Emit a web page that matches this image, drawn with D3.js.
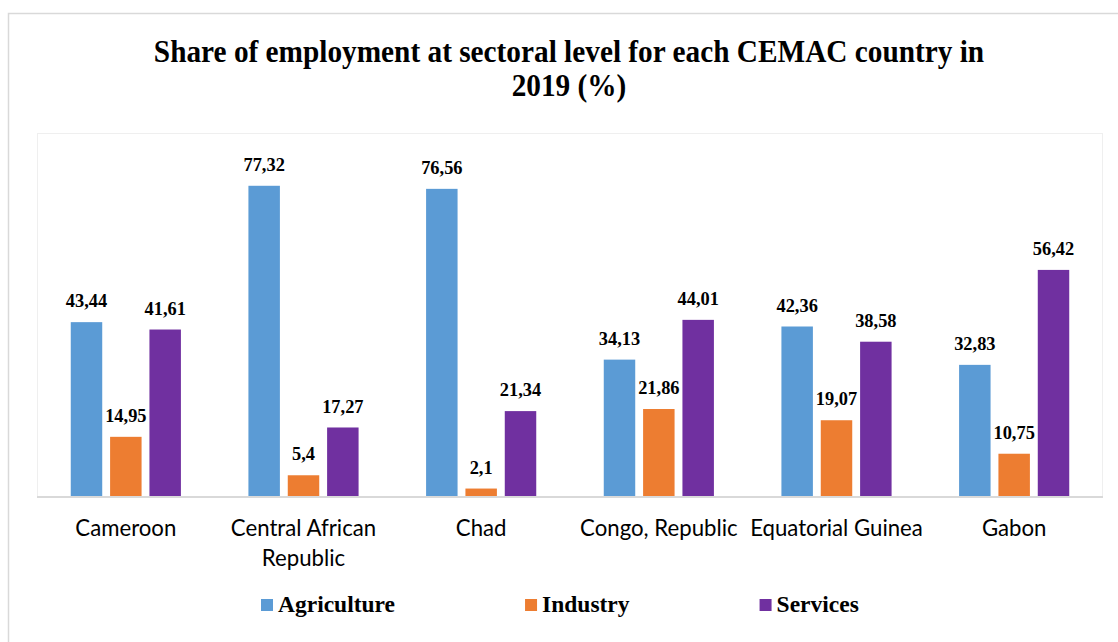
<!DOCTYPE html>
<html>
<head>
<meta charset="utf-8">
<script src="https://cdn.jsdelivr.net/npm/d3@7"></script>
<style>
  html, body { margin: 0; padding: 0; background: #fff; }
  svg { display: block; }
</style>
</head>
<body>
<svg id="chart" width="1118" height="642"></svg>
<script>
// Employment share by sector, CEMAC countries, 2019 (%)
const countries = ["Cameroon", "Central African Republic", "Chad", "Congo, Republic", "Equatorial Guinea", "Gabon"];
const sectors = ["Agriculture", "Industry", "Services"];
const agriculture = [43.44, 77.32, 76.56, 34.13, 42.36, 32.83];
const industry = [14.95, 5.4, 2.1, 21.86, 19.07, 10.75];
const services = [41.61, 17.27, 21.34, 44.01, 38.58, 56.42];
const sectorColors = ["#5B9BD5", "#ED7D31", "#7030A0"];
const titleLines = ["Share of employment at sectoral level for each CEMAC country in", "2019 (%)"];

const seriesValues = [agriculture, industry, services];
const rows = countries.map((c, i) => ({
  country: c,
  values: sectors.map((s, j) => ({ sector: s, value: seriesValues[j][i] }))
}));

const svg = d3.select("#chart");
const W = 1118, H = 642;
const plot = { left: 37, right: 1103, top: 133, bottom: 497 };

// outer frame (top and left edges visible)
svg.append("rect")
  .attr("x", 8.5).attr("y", 13.5)
  .attr("width", W + 20).attr("height", H + 20)
  .attr("fill", "#fff").attr("stroke", "#d9d9d9").attr("stroke-width", 1.5);

// plot area frame
svg.append("rect")
  .attr("x", plot.left + 0.5).attr("y", plot.top + 0.5)
  .attr("width", plot.right - plot.left - 1).attr("height", plot.bottom - plot.top)
  .attr("fill", "none").attr("stroke", "#efefef").attr("stroke-width", 1);

// title (serif bold, slightly tall glyphs)
const serif = "'Liberation Serif', 'Times New Roman', serif";
svg.append("g").selectAll("text").data(titleLines).join("text")
  .attr("transform", (d, i) => `translate(569,${62 + i * 34}) scale(1,1.08)`)
  .attr("text-anchor", "middle")
  .attr("font-family", serif).attr("font-weight", "bold").attr("font-size", 29.3)
  .attr("fill", "#000")
  .text(d => d);

// scales
const x0 = d3.scaleBand().domain(countries).range([plot.left, plot.right]).paddingInner(0.38).paddingOuter(0.19);
const x1 = d3.scaleBand().domain(sectors).range([0, x0.bandwidth()]).paddingInner(0.2).paddingOuter(0);
const y = d3.scaleLinear().domain([0, 90]).range([plot.bottom, plot.bottom - 90 * 4.025]);
const color = d3.scaleOrdinal().domain(sectors).range(sectorColors);

// bars
const groups = svg.append("g").selectAll("g").data(rows).join("g")
  .attr("transform", d => `translate(${x0(d.country)},0)`);

groups.selectAll("rect").data(d => d.values).join("rect")
  .attr("x", d => x1(d.sector))
  .attr("y", d => y(d.value))
  .attr("width", x1.bandwidth())
  .attr("height", d => y(0) - y(d.value))
  .attr("fill", d => color(d.sector));

// value labels
const fmt = v => String(v).replace(".", ",");
groups.selectAll("text").data(d => d.values).join("text")
  .attr("transform", d => `translate(${x1(d.sector) + x1.bandwidth() / 2},${y(d.value) - 14.8}) scale(1,1.08)`)
  .attr("text-anchor", "middle")
  .attr("font-family", serif).attr("font-weight", "bold").attr("font-size", 18.4)
  .attr("fill", "#000")
  .text(d => fmt(d.value));

// category axis
const xAxis = svg.append("g")
  .attr("transform", `translate(0,${plot.bottom})`)
  .call(d3.axisBottom(x0.copy().paddingInner(0).paddingOuter(0)).tickSize(0).tickPadding(0));

xAxis.select(".domain").attr("stroke", "#d9d9d9").attr("stroke-width", 2)
  .attr("d", `M${plot.left},0H${plot.right}`);

xAxis.selectAll(".tick text")
  .attr("font-family", "Lato, 'Open Sans', sans-serif")
  .attr("font-size", 22.2)
  .attr("fill", "#000")
  .attr("dy", null)
  .attr("y", 0)
  .each(function (d) {
    const t = d3.select(this);
    t.text(null);
    // long name goes onto two lines
    const words = d.split(" ");
    let lines = [d];
    if (d === "Central African Republic") lines = [words.slice(0, 2).join(" "), words.slice(2).join(" ")];
    lines.forEach((ln, i) => {
      t.append("tspan").attr("x", 0).attr("y", 39 + i * 30).text(ln);
    });
  });

// legend
const legend = svg.append("g");
let lx = 261;
sectors.forEach((s, i) => {
  const g = legend.append("g").attr("transform", `translate(${lx},0)`);
  g.append("rect").attr("x", 0).attr("y", 599).attr("width", 12).attr("height", 12).attr("fill", color(s));
  const t = g.append("text").attr("x", 17).attr("y", 612)
    .attr("font-family", serif).attr("font-weight", "bold").attr("font-size", 23.5)
    .attr("fill", "#000").text(s);
  lx += 17 + t.node().getComputedTextLength() + 130;
});
</script>
</body>
</html>
